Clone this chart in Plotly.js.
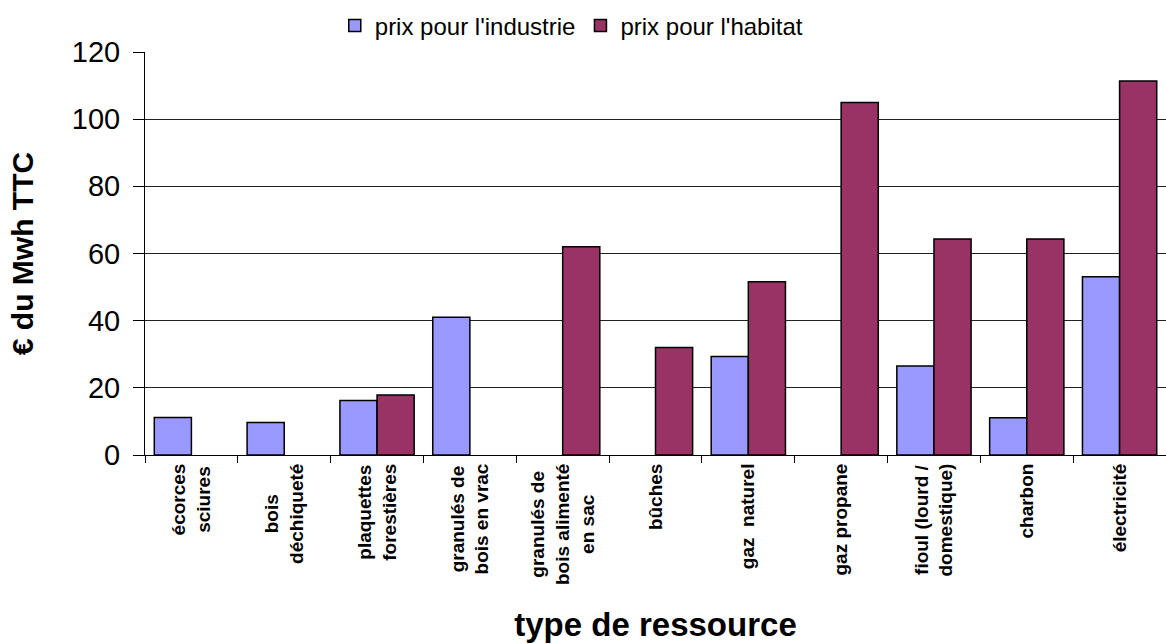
<!DOCTYPE html>
<html>
<head>
<meta charset="utf-8">
<script src="https://cdn.plot.ly/plotly-3.0.1.min.js"></script>
<style>html,body{margin:0;padding:0;background:#fff;}#chart{width:1166px;height:644px;}</style>
</head>
<body>
<div id="chart"></div>
<script>
const categories = [
  "écorces<br>sciures",
  "bois<br>déchiqueté",
  "plaquettes<br>forestières",
  "granulés de<br>bois en vrac",
  "granulés de<br>bois alimenté<br>en sac",
  "bûches",
  "gaz  naturel",
  "gaz propane",
  "fioul (lourd /<br>domestique)",
  "charbon",
  "électricité"
];
const seriesNames = ["prix pour l'industrie", "prix pour l'habitat"];
const industrie = [11.2, 9.7, 16.2, 41.0, null, null, 29.3, null, 26.5, 11.1, 53.1];
const habitat   = [null, null, 17.9, null, 62.0, 32.0, 51.6, 105.0, 64.3, 64.3, 111.4];
const yTicks = [0, 20, 40, 60, 80, 100, 120];

const font = "Liberation Sans, Arial, sans-serif";

const traces = [
  {type: "bar", name: seriesNames[0], x: categories, y: industrie,
   marker: {color: "#9999FF", line: {color: "#000", width: 1.5}}},
  {type: "bar", name: seriesNames[1], x: categories, y: habitat,
   marker: {color: "#993366", line: {color: "#000", width: 1.5}}}
];

const layout = {
  width: 1166, height: 644,
  margin: {l: 145, r: 0, t: 52, b: 189, pad: 0},
  paper_bgcolor: "#fff", plot_bgcolor: "#fff",
  barmode: "group", bargap: 0.2, bargroupgap: 0,
  font: {family: font, color: "#000"},
  showlegend: true,
  legend: {orientation: "h", x: 0.418, xanchor: "center", y: 1.065, yanchor: "middle",
           font: {size: 24, family: font}, traceorder: "normal", itemwidth: 30},
  xaxis: {
    type: "category", range: [-0.5, 10.5],
    showline: true, linecolor: "#000", linewidth: 1,
    ticks: "outside", tickson: "boundaries", ticklen: 7, tickcolor: "#000",
    tickangle: -90, tickfont: {size: 19, family: font, weight: "bold"},
    showgrid: false,
    title: {text: "<b>type de ressource</b>", font: {size: 33, family: font}, standoff: 28}
  },
  yaxis: {
    range: [0, 120], tickvals: yTicks, ticktext: yTicks.map(String),
    showline: true, linecolor: "#000", linewidth: 1,
    ticks: "outside", ticklen: 11, tickcolor: "#000",
    tickfont: {size: 29, family: font}, ticklabelstandoff: 7,
    showgrid: true, gridcolor: "#222", gridwidth: 1, zeroline: false,
    title: {text: "<b>€ du Mwh TTC</b>", font: {size: 30, family: font}, standoff: 29}
  }
};

function centreLabels() {
  // centre the lines of multi-line category labels (keeps Plotly's own anchor)
  document.querySelectorAll("#chart .xtick text").forEach(function (t) {
    if (t.getAttribute("data-centred") === "1") return;
    const lines = Array.from(t.children).filter(function (l) {
      return l.tagName.toLowerCase() === "tspan";
    });
    if (lines.length < 2) return;
    const widths = lines.map(function (l) { return l.getComputedTextLength(); });
    const maxW = Math.max.apply(null, widths);
    const x0 = parseFloat(t.getAttribute("x")) || 0;
    lines.forEach(function (l, i) {
      l.setAttribute("x", x0 - (maxW - widths[i]) / 2);
    });
    t.setAttribute("data-centred", "1");
  });
}

Plotly.newPlot("chart", traces, layout, {staticPlot: true}).then(function (gd) {
  centreLabels();
  gd.on("plotly_afterplot", centreLabels);
  setInterval(centreLabels, 15);
});
</script>
</body>
</html>
